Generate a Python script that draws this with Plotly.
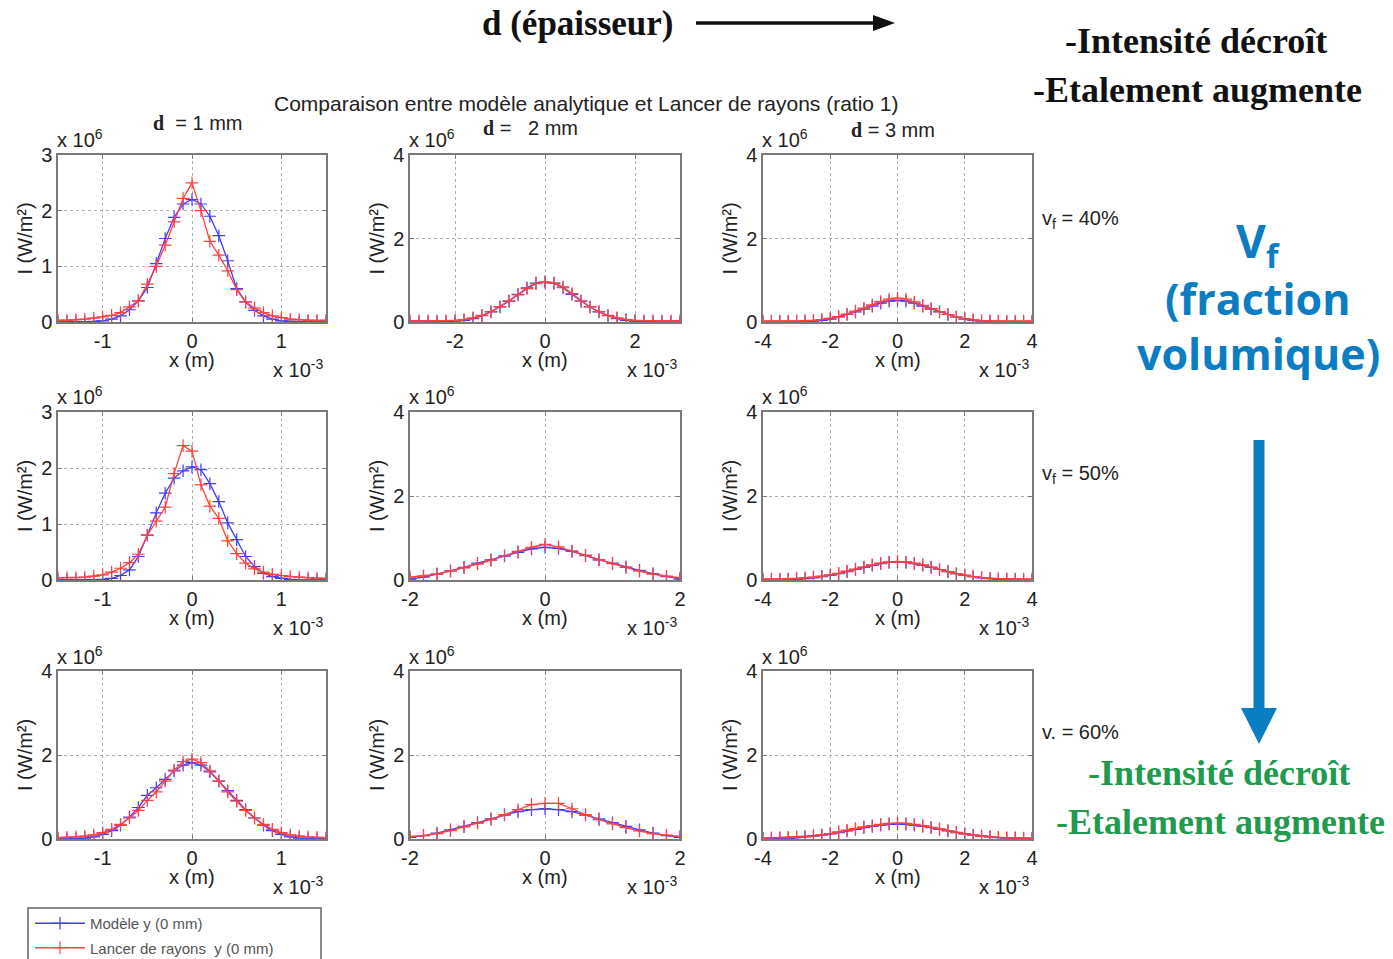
import plotly.graph_objects as go

W, H = 1393, 959

# ---------------- data (x in units of 1e-3 m, I in units of 1e6 W/m2) ----------------
x_d1 = [-1.5, -1.4, -1.3, -1.2, -1.1, -1.0, -0.9, -0.8, -0.7, -0.6, -0.5, -0.4, -0.3, -0.2, -0.1, 0.0,
        0.1, 0.2, 0.3, 0.4, 0.5, 0.6, 0.7, 0.8, 0.9, 1.0, 1.1, 1.2, 1.3, 1.4, 1.5]
x_d2_40 = [-3.0, -2.8, -2.6, -2.4, -2.2, -2.0, -1.8, -1.6, -1.4, -1.2, -1.0, -0.8, -0.6, -0.4, -0.2, 0.0,
           0.2, 0.4, 0.6, 0.8, 1.0, 1.2, 1.4, 1.6, 1.8, 2.0, 2.2, 2.4, 2.6, 2.8, 3.0]
x_d2 = [-2.0, -1.8, -1.6, -1.4, -1.2, -1.0, -0.8, -0.6, -0.4, -0.2, 0.0,
        0.2, 0.4, 0.6, 0.8, 1.0, 1.2, 1.4, 1.6, 1.8, 2.0]
x_d3 = [-4.0, -3.75, -3.5, -3.25, -3.0, -2.75, -2.5, -2.25, -2.0, -1.75, -1.5, -1.25, -1.0, -0.75, -0.5, -0.25, 0.0,
        0.25, 0.5, 0.75, 1.0, 1.25, 1.5, 1.75, 2.0, 2.25, 2.5, 2.75, 3.0, 3.25, 3.5, 3.75, 4.0]

# vf = 40 %
model_40_d1 = [0, 0, 0, 0, 0.01, 0.02, 0.05, 0.11, 0.22, 0.38, 0.62, 1.05, 1.5, 1.88, 2.12, 2.2,
               2.12, 1.9, 1.55, 1.1, 0.6, 0.36, 0.21, 0.11, 0.05, 0.02, 0.01, 0, 0, 0, 0]
rays_40_d1 = [0.03, 0.03, 0.04, 0.05, 0.07, 0.09, 0.12, 0.17, 0.27, 0.38, 0.68, 1.0, 1.38, 1.8, 2.22, 2.5,
              2.0, 1.45, 1.2, 0.92, 0.58, 0.36, 0.25, 0.17, 0.11, 0.08, 0.05, 0.04, 0.03, 0.03, 0.03]
model_40_d2 = [0, 0, 0, 0, 0.01, 0.02, 0.04, 0.08, 0.15, 0.24, 0.36, 0.5, 0.66, 0.82, 0.93, 0.95,
               0.93, 0.82, 0.66, 0.5, 0.36, 0.24, 0.15, 0.08, 0.04, 0.02, 0.01, 0, 0, 0, 0]
rays_40_d2 = [0.03, 0.03, 0.03, 0.03, 0.03, 0.04, 0.06, 0.1, 0.16, 0.25, 0.37, 0.5, 0.65, 0.8, 0.92, 0.96,
              0.93, 0.84, 0.68, 0.5, 0.36, 0.25, 0.16, 0.1, 0.06, 0.04, 0.03, 0.03, 0.03, 0.03, 0.03]
model_40_d3 = [0, 0, 0, 0, 0.01, 0.01, 0.02, 0.04, 0.07, 0.12, 0.18, 0.24, 0.31, 0.38, 0.45, 0.5, 0.52,
               0.5, 0.45, 0.38, 0.31, 0.24, 0.18, 0.12, 0.07, 0.04, 0.02, 0.01, 0.01, 0, 0, 0, 0]
rays_40_d3 = [0.02, 0.02, 0.02, 0.02, 0.03, 0.03, 0.04, 0.06, 0.09, 0.13, 0.19, 0.26, 0.33, 0.41, 0.49, 0.55, 0.57,
              0.55, 0.48, 0.4, 0.32, 0.25, 0.18, 0.12, 0.08, 0.05, 0.03, 0.03, 0.02, 0.02, 0.02, 0.02, 0.02]

# vf = 50 %
model_50_d1 = [0, 0, 0, 0, 0.005, 0.01, 0.03, 0.08, 0.18, 0.42, 0.8, 1.2, 1.55, 1.82, 1.95, 2.02,
               1.97, 1.72, 1.4, 1.02, 0.72, 0.42, 0.24, 0.12, 0.06, 0.03, 0.01, 0, 0, 0, 0]
rays_50_d1 = [0.04, 0.04, 0.04, 0.05, 0.07, 0.09, 0.14, 0.21, 0.31, 0.46, 0.8, 1.05, 1.3, 1.9, 2.4, 2.3,
              1.7, 1.32, 1.1, 0.7, 0.47, 0.3, 0.2, 0.14, 0.1, 0.08, 0.06, 0.05, 0.04, 0.03, 0.03]
model_50_d2 = [0.02, 0.07, 0.14, 0.22, 0.3, 0.4, 0.48, 0.57, 0.66, 0.74, 0.78,
               0.75, 0.68, 0.58, 0.48, 0.4, 0.31, 0.23, 0.15, 0.08, 0.02]
rays_50_d2 = [0.07, 0.1, 0.14, 0.21, 0.29, 0.38, 0.47, 0.58, 0.68, 0.78, 0.85,
              0.79, 0.69, 0.59, 0.48, 0.39, 0.3, 0.21, 0.14, 0.09, 0.05]
model_50_d3 = [0, 0, 0.01, 0.01, 0.02, 0.03, 0.05, 0.08, 0.11, 0.15, 0.2, 0.25, 0.3, 0.35, 0.39, 0.42, 0.43,
               0.42, 0.39, 0.35, 0.3, 0.25, 0.2, 0.15, 0.11, 0.08, 0.05, 0.03, 0.02, 0.01, 0.01, 0, 0]
rays_50_d3 = [0.02, 0.02, 0.02, 0.03, 0.04, 0.05, 0.07, 0.09, 0.12, 0.16, 0.21, 0.26, 0.31, 0.36, 0.4, 0.43, 0.44,
              0.43, 0.4, 0.36, 0.31, 0.25, 0.2, 0.15, 0.11, 0.08, 0.06, 0.04, 0.03, 0.03, 0.02, 0.02, 0.02]

# vf = 60 %
model_60_d1 = [0, 0, 0.01, 0.02, 0.05, 0.11, 0.2, 0.33, 0.52, 0.75, 1.04, 1.22, 1.42, 1.62, 1.76, 1.82,
               1.76, 1.6, 1.38, 1.15, 0.92, 0.7, 0.5, 0.33, 0.2, 0.11, 0.05, 0.02, 0.01, 0, 0]
rays_60_d1 = [0.03, 0.04, 0.05, 0.07, 0.1, 0.15, 0.23, 0.35, 0.5, 0.68, 0.92, 1.12, 1.38, 1.64, 1.84, 1.9,
              1.82, 1.62, 1.38, 1.12, 0.9, 0.68, 0.5, 0.35, 0.23, 0.15, 0.1, 0.07, 0.05, 0.04, 0.03]
model_60_d2 = [0.04, 0.08, 0.14, 0.22, 0.3, 0.39, 0.48, 0.57, 0.65, 0.7, 0.72,
               0.7, 0.65, 0.57, 0.48, 0.39, 0.3, 0.22, 0.14, 0.08, 0.04]
rays_60_d2 = [0.06, 0.08, 0.13, 0.2, 0.29, 0.38, 0.47, 0.58, 0.7, 0.82, 0.85,
              0.85, 0.72, 0.58, 0.46, 0.36, 0.27, 0.19, 0.13, 0.09, 0.06]
model_60_d3 = [0.01, 0.01, 0.02, 0.02, 0.03, 0.05, 0.07, 0.09, 0.12, 0.15, 0.19, 0.23, 0.27, 0.3, 0.33, 0.35, 0.36,
               0.35, 0.33, 0.3, 0.27, 0.23, 0.19, 0.15, 0.12, 0.09, 0.07, 0.05, 0.03, 0.02, 0.02, 0.01, 0.01]
rays_60_d3 = [0.02, 0.03, 0.03, 0.04, 0.05, 0.06, 0.08, 0.1, 0.13, 0.17, 0.21, 0.25, 0.29, 0.32, 0.35, 0.37, 0.38,
              0.37, 0.35, 0.32, 0.28, 0.24, 0.2, 0.16, 0.12, 0.09, 0.07, 0.05, 0.04, 0.03, 0.03, 0.02, 0.02]

panels = [
    # row, col, x, model, rays, xrange, xticks, yrange, yticks
    (0, 0, x_d1, model_40_d1, rays_40_d1, [-1.5, 1.5], [-1, 0, 1], [0, 3], [0, 1, 2, 3]),
    (0, 1, x_d2_40, model_40_d2, rays_40_d2, [-3, 3], [-2, 0, 2], [0, 4], [0, 2, 4]),
    (0, 2, x_d3, model_40_d3, rays_40_d3, [-4, 4], [-4, -2, 0, 2, 4], [0, 4], [0, 2, 4]),
    (1, 0, x_d1, model_50_d1, rays_50_d1, [-1.5, 1.5], [-1, 0, 1], [0, 3], [0, 1, 2, 3]),
    (1, 1, x_d2, model_50_d2, rays_50_d2, [-2, 2], [-2, 0, 2], [0, 4], [0, 2, 4]),
    (1, 2, x_d3, model_50_d3, rays_50_d3, [-4, 4], [-4, -2, 0, 2, 4], [0, 4], [0, 2, 4]),
    (2, 0, x_d1, model_60_d1, rays_60_d1, [-1.5, 1.5], [-1, 0, 1], [0, 4], [0, 2, 4]),
    (2, 1, x_d2, model_60_d2, rays_60_d2, [-2, 2], [-2, 0, 2], [0, 4], [0, 2, 4]),
    (2, 2, x_d3, model_60_d3, rays_60_d3, [-4, 4], [-4, -2, 0, 2, 4], [0, 4], [0, 2, 4]),
]

legend_names = ["Modèle y (0 mm)", "Lancer de rayons  y (0 mm)"]

# ---------------- layout geometry (pixels) ----------------
col_px = [(58, 326), (410, 680), (763, 1032)]
row_px = [(155, 322), (412, 580), (671, 839)]


def px(x):
    return x / W


def py(y):
    return 1 - y / H


BLUE = "#3d3dff"
RED = "#ff4040"
SANS = "Liberation Sans"
SERIF = "Liberation Serif"
TXT = "#222"

fig = go.Figure()
layout = {}
annotations = []

for i, (r, c, xs, m, rr, xr, xt, yr, yt) in enumerate(panels):
    n = i + 1
    xa = "x" if n == 1 else f"x{n}"
    ya = "y" if n == 1 else f"y{n}"
    for ys, col, name, grp in ((m, BLUE, legend_names[0], "a"), (rr, RED, legend_names[1], "b")):
        fig.add_trace(go.Scatter(
            x=xs, y=ys, xaxis=xa, yaxis=ya, mode="lines+markers", name=name,
            showlegend=(n == 1), legendgroup=grp,
            line=dict(color=col, width=1.3),
            marker=dict(symbol="cross-thin", size=9, line=dict(width=1.2, color=col)),
        ))
    x0, x1 = col_px[c]
    y0, y1 = row_px[r]
    axcommon = dict(showline=True, linecolor="#7a7a7a", linewidth=1.5, mirror="allticks",
                    ticks="inside", ticklen=4, tickcolor="#7a7a7a", automargin=False,
                    showgrid=True, gridcolor="#b0b0b0", griddash="dot", gridwidth=1,
                    zeroline=False, tickfont=dict(family=SANS, size=20, color=TXT))
    layout["xaxis" if n == 1 else f"xaxis{n}"] = dict(
        domain=[px(x0), px(x1)], anchor=ya, range=xr, tickvals=xt,
        ticktext=[str(v) for v in xt], **axcommon)
    layout["yaxis" if n == 1 else f"yaxis{n}"] = dict(
        domain=[py(y1), py(y0)], anchor=xa, range=yr, tickvals=yt,
        ticktext=[str(v) for v in yt], **axcommon)

    xc = (x0 + x1) / 2
    yc = (y0 + y1) / 2
    annotations.append(dict(x=px(x0 - 33), y=py(yc), text="I (W/m²)", textangle=-90,
                            font=dict(family=SANS, size=20, color=TXT)))
    annotations.append(dict(x=px(xc), y=py(y1 + 38), text="x (m)",
                            font=dict(family=SANS, size=20, color=TXT)))
    annotations.append(dict(x=px(x1 - 28), y=py(y1 + 46), text="x 10<sup>-3</sup>",
                            font=dict(family=SANS, size=20, color=TXT)))
    annotations.append(dict(x=px(x0 + 22), y=py(y0 - 16), text="x 10<sup>6</sup>",
                            font=dict(family=SANS, size=20, color=TXT)))

DSPAN = "<b><span style='font-family:Liberation Serif'>d</span></b>"
annotations += [
    dict(x=px(578), y=py(24), text="<b>d (épaisseur)</b>", font=dict(family=SERIF, size=35, color="#111")),
    dict(x=px(1196), y=py(41), text="<b>-Intensité décroît</b>", font=dict(family=SERIF, size=36, color="#111")),
    dict(x=px(1197), y=py(90), text="<b>-Etalement augmente</b>", font=dict(family=SERIF, size=36, color="#111")),
    dict(x=px(586), y=py(104), text="Comparaison entre modèle analytique et Lancer de rayons (ratio 1)",
         font=dict(family=SANS, size=21, color=TXT)),
    dict(x=px(197), y=py(123), text=DSPAN + "  = 1 mm", font=dict(family=SANS, size=20, color=TXT)),
    dict(x=px(530), y=py(128), text=DSPAN + " =   2 mm", font=dict(family=SANS, size=20, color=TXT)),
    dict(x=px(893), y=py(130), text=DSPAN + " = 3 mm", font=dict(family=SANS, size=20, color=TXT)),
    dict(x=px(1040), y=py(219), xanchor="left", text="v<sub>f</sub> = 40%",
         font=dict(family=SANS, size=20, color=TXT)),
    dict(x=px(1040), y=py(475), xanchor="left", text="v<sub>f</sub> = 50%",
         font=dict(family=SANS, size=20, color=TXT)),
    dict(x=px(1040), y=py(732), xanchor="left", text="v. = 60%",
         font=dict(family=SANS, size=20, color=TXT)),
    dict(x=px(1258), y=py(243), text="<b>V<sub>f</sub></b>", font=dict(family="Open Sans", size=46, color="#0b7dc3")),
    dict(x=px(1258), y=py(298), text="<b>(fraction</b>", font=dict(family="Open Sans", size=43, color="#0b7dc3")),
    dict(x=px(1258), y=py(353), text="<b>volumique)</b>", font=dict(family="Open Sans", size=43, color="#0b7dc3")),
    dict(x=px(1219), y=py(773), text="<b>-Intensité décroît</b>", font=dict(family=SERIF, size=36, color="#1f9a4e")),
    dict(x=px(1220), y=py(822), text="<b>-Etalement augmente</b>", font=dict(family=SERIF, size=36, color="#1f9a4e")),
]
for a in annotations:
    a.setdefault("xref", "paper")
    a.setdefault("yref", "paper")
    a.setdefault("showarrow", False)
    a.setdefault("xanchor", "center")
    a.setdefault("yanchor", "middle")

shapes = [
    dict(type="line", xref="paper", yref="paper", x0=px(696), x1=px(880), y0=py(23), y1=py(23),
         line=dict(color="#111", width=3.5)),
    dict(type="path", xref="paper", yref="paper",
         path=f"M {px(873)} {py(15)} L {px(895)} {py(23)} L {px(873)} {py(31)} Z",
         fillcolor="#111", line=dict(color="#111", width=0)),
    dict(type="line", xref="paper", yref="paper", x0=px(1259), x1=px(1259), y0=py(440), y1=py(712),
         line=dict(color="#0b7dc3", width=11)),
    dict(type="path", xref="paper", yref="paper",
         path=f"M {px(1241)} {py(708)} L {px(1277)} {py(708)} L {px(1259)} {py(744)} Z",
         fillcolor="#0b7dc3", line=dict(color="#0b7dc3", width=0)),
    dict(type="rect", xref="paper", yref="paper", x0=px(28), x1=px(321), y0=py(908), y1=py(965),
         line=dict(color="#666", width=1.5), fillcolor="rgba(0,0,0,0)"),
]

fig.update_layout(
    width=W, height=H, margin=dict(l=0, r=0, t=0, b=0, autoexpand=False),
    paper_bgcolor="white", plot_bgcolor="white",
    annotations=annotations, shapes=shapes,
    legend=dict(x=px(30), y=py(907), xanchor="left", yanchor="top", bgcolor="rgba(0,0,0,0)",
                borderwidth=0, font=dict(family=SANS, size=15, color="#555"), itemwidth=50,
                tracegroupgap=2),
    **layout,
)

fig.write_html("out.html")
